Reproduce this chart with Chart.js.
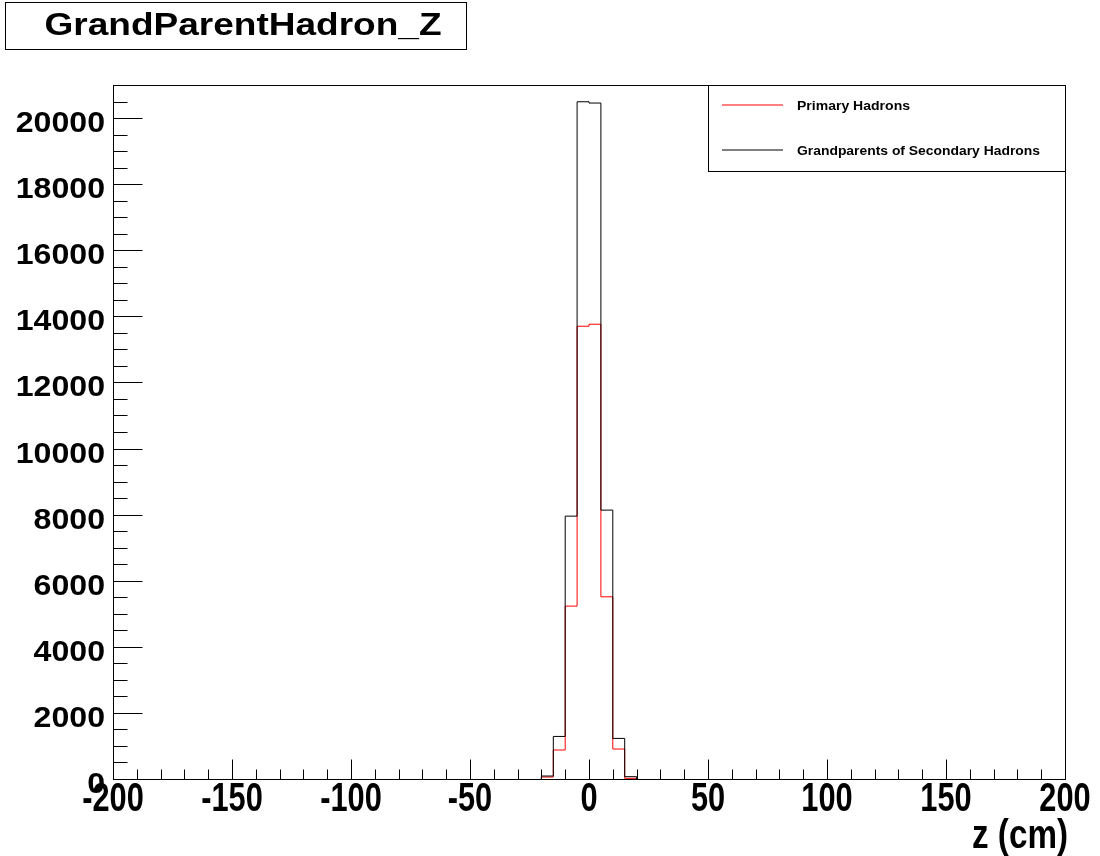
<!DOCTYPE html>
<html>
<head>
<meta charset="utf-8">
<title>GrandParentHadron_Z</title>
<script src="https://cdn.jsdelivr.net/npm/chart.js@4/dist/chart.umd.min.js"></script>
<style>
  html, body { margin: 0; padding: 0; background: #fff; }
  canvas { display: block; }
</style>
</head>
<body>
<canvas id="histo" width="1100" height="856"></canvas>
<script>
// ── Data ─────────────────────────────────────────────────────
// lower edges of the non-empty 5 cm bins, all other bins are 0
const BIN_LOW   = [-20, -15, -10, -5, 0, 5, 10, 15];
const BIN_WIDTH = 5;
const primary      = [60, 877, 5232, 13700, 13761, 5513, 907, 20];
const grandparents = [90, 1288, 7954, 20493, 20454, 8136, 1228, 70];

const X_TICKS = [-200, -150, -100, -50, 0, 50, 100, 150, 200];
const Y_TICKS = [0, 2000, 4000, 6000, 8000, 10000, 12000, 14000, 16000, 18000, 20000];
const X_MIN = -200, X_MAX = 200;
const Y_MIN = 0,    Y_MAX = 21000;

const FONT = "'Liberation Sans', Arial, Helvetica, sans-serif";

// turn bin contents into step points (ROOT-like outline);
// empty bins lie on the frame, so the outline starts/ends on the baseline
function toSteps(values) {
  const pts = [{ x: BIN_LOW[0], y: 0 }];
  BIN_LOW.forEach((lo, i) => pts.push({ x: lo, y: values[i] }));
  const lastEdge = BIN_LOW[BIN_LOW.length - 1] + BIN_WIDTH;
  pts.push({ x: lastEdge, y: 0 });
  return pts;
}

// draw text with an optional horizontal squeeze/stretch (ROOT text is not Arial-shaped)
function drawText(ctx, text, x, y, font, opts) {
  const { width = null, sx = null, align = 'left', baseline = 'middle' } = opts || {};
  ctx.save();
  ctx.font = font;
  ctx.textBaseline = baseline;
  ctx.textAlign = 'left';
  const w = ctx.measureText(text).width;
  const k = width ? width / w : (sx || 1);
  let x0 = x;
  if (align === 'center') x0 = x - (w * k) / 2;
  if (align === 'right') x0 = x - w * k;
  ctx.translate(x0, y);
  ctx.scale(k, 1);
  ctx.fillStyle = '#000';
  ctx.fillText(text, 0, 0);
  ctx.restore();
}

// ── Frame, inward ticks, labels, title box, legend ───────────
const rootDecor = {
  id: 'rootDecor',
  beforeDraw(chart) {
    const { ctx } = chart;
    ctx.save();
    ctx.fillStyle = '#fff';
    ctx.fillRect(0, 0, chart.width, chart.height);
    ctx.restore();
  },
  afterDatasetsDraw(chart) {
    const { ctx, chartArea: a, scales } = chart;
    const xs = scales.x, ys = scales.y;
    ctx.save();
    ctx.strokeStyle = '#000';
    ctx.lineWidth = 1;

    // frame
    ctx.strokeRect(Math.round(a.left) + 0.5, Math.round(a.top) + 0.5,
      Math.round(a.right - a.left), Math.round(a.bottom - a.top));

    const bottom = Math.round(a.bottom) + 0.5;
    const left = Math.round(a.left) + 0.5;

    ctx.beginPath();
    // x ticks: major every 50, minor every 10
    for (let v = X_MIN; v <= X_MAX; v += 10) {
      const px = Math.round(xs.getPixelForValue(v)) + 0.5;
      const len = v % 50 === 0 ? 20 : 10;
      ctx.moveTo(px, bottom);
      ctx.lineTo(px, bottom - len);
    }
    // y ticks: major every 2000, minor every 500
    for (let v = Y_MIN; v <= Y_MAX; v += 500) {
      const py = Math.round(ys.getPixelForValue(v)) + 0.5;
      const len = v % 2000 === 0 ? 29 : 14;
      ctx.moveTo(left, py);
      ctx.lineTo(left + len, py);
    }
    ctx.stroke();

    // y tick labels
    Y_TICKS.forEach(v => {
      const py = ys.getPixelForValue(v);
      drawText(ctx, String(v), a.left - 8, py + 14, `bold 30px ${FONT}`,
        { sx: 1.07, align: 'right', baseline: 'alphabetic' });
    });

    // x tick labels, tall and condensed like the ROOT output
    X_TICKS.forEach(v => {
      const px = xs.getPixelForValue(v);
      drawText(ctx, String(v), px, a.bottom + 21, `bold 41px ${FONT}`,
        { sx: 0.75, align: 'center' });
    });
    drawText(ctx, 'z (cm)', 1068, 837, `bold 41px ${FONT}`, { width: 96, align: 'right' });

    // title box
    ctx.strokeRect(5.5, 2.5, 461, 47);
    drawText(ctx, 'GrandParentHadron_Z', 243, 26, `bold 31px ${FONT}`, { width: 397, align: 'center' });

    // legend box
    const lt = Math.round(a.top) + 0.5;
    ctx.fillStyle = '#fff';
    ctx.fillRect(708.5, lt, 357, 86);
    ctx.strokeRect(708.5, lt, 357, 86);
    const entries = [
      { label: 'Primary Hadrons', color: '#ff0000', y: 105, w: 113 },
      { label: 'Grandparents of Secondary Hadrons', color: '#000000', y: 150, w: 243 },
    ];
    entries.forEach(e => {
      ctx.strokeStyle = e.color;
      ctx.beginPath();
      ctx.moveTo(722, e.y);
      ctx.lineTo(783, e.y);
      ctx.stroke();
      drawText(ctx, e.label, 797, e.y + 1.5, `bold 12px ${FONT}`, { width: e.w });
    });
    ctx.restore();
  },
};

// ── Chart ────────────────────────────────────────────────────
const chart = new Chart(document.getElementById('histo'), {
  type: 'line',
  data: {
    datasets: [
      {
        label: 'Primary Hadrons',
        data: toSteps(primary),
        borderColor: '#ff0000',
        borderWidth: 1,
        stepped: 'before',
        pointRadius: 0,
        fill: false,
        order: 1,
      },
      {
        label: 'Grandparents of Secondary Hadrons',
        data: toSteps(grandparents),
        borderColor: '#000000',
        borderWidth: 1,
        stepped: 'before',
        pointRadius: 0,
        fill: false,
        order: 0,
      },
    ],
  },
  options: {
    responsive: false,
    animation: false,
    layout: { padding: { top: 85, right: 35, left: 0, bottom: 0 } },
    plugins: {
      legend: { display: false },
      tooltip: { enabled: false },
      title: { display: false },
    },
    scales: {
      x: {
        type: 'linear',
        min: X_MIN,
        max: X_MAX,
        grid: { display: false, drawTicks: false },
        border: { display: false },
        ticks: { display: false, stepSize: 50 },
        afterFit: s => { s.height = 77; },
      },
      y: {
        type: 'linear',
        min: Y_MIN,
        max: Y_MAX,
        grid: { display: false, drawTicks: false },
        border: { display: false },
        ticks: { display: false, stepSize: 2000 },
        afterFit: s => { s.width = 113; },
      },
    },
  },
  plugins: [rootDecor],
});
</script>
</body>
</html>
